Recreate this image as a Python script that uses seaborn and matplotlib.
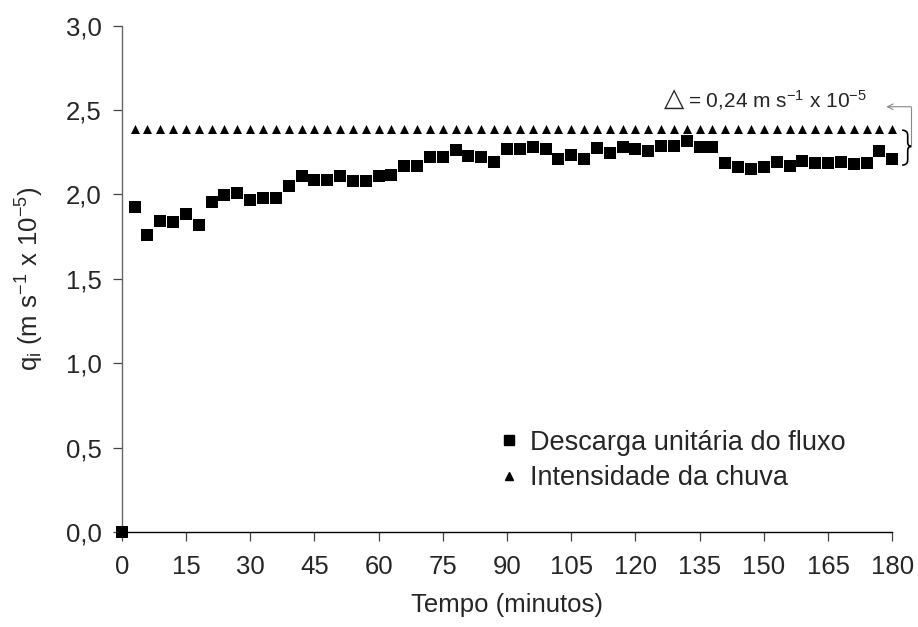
import numpy as np
import pandas as pd
import seaborn as sns
import matplotlib.pyplot as plt
from matplotlib.lines import Line2D
from matplotlib.path import Path
from matplotlib.patches import PathPatch
from matplotlib.ticker import FuncFormatter

# tempo (minutos)
tempo = list(range(0, 181, 3))

# descarga unitaria do fluxo (m s-1 x 10-5)
descarga = [0.0,
            1.925, 1.761, 1.843, 1.837, 1.884, 1.818, 1.957, 1.994, 2.008, 1.965,
            1.982, 1.978, 2.053, 2.108, 2.086, 2.086, 2.108, 2.082, 2.078, 2.108,
            2.118, 2.167, 2.167, 2.220, 2.225, 2.263, 2.227, 2.222, 2.194, 2.271,
            2.271, 2.280, 2.269, 2.212, 2.233, 2.208, 2.276, 2.247, 2.282, 2.269,
            2.257, 2.286, 2.290, 2.314, 2.280, 2.280, 2.186, 2.161, 2.151, 2.165,
            2.192, 2.171, 2.196, 2.186, 2.186, 2.190, 2.182, 2.186, 2.255, 2.212]

# intensidade da chuva (3 a 180 min)
tempo_chuva = tempo[1:]
chuva = [2.386, 2.386, 2.386, 2.386, 2.386, 2.386, 2.386, 2.386, 2.386, 2.386,
         2.386, 2.386, 2.386, 2.386, 2.386, 2.386, 2.386, 2.386, 2.386, 2.386,
         2.386, 2.386, 2.386, 2.386, 2.386, 2.386, 2.386, 2.386, 2.386, 2.386,
         2.386, 2.386, 2.386, 2.386, 2.386, 2.386, 2.386, 2.386, 2.386, 2.386,
         2.386, 2.386, 2.386, 2.386, 2.386, 2.386, 2.386, 2.386, 2.386, 2.386,
         2.386, 2.386, 2.386, 2.386, 2.386, 2.386, 2.386, 2.386, 2.386, 2.386]

x_ticks = list(range(0, 181, 15))
y_ticks = [0.0, 0.5, 1.0, 1.5, 2.0, 2.5, 3.0]

sns.set_style("white")
plt.rcParams["font.family"] = ["Liberation Sans", "DejaVu Sans"]
plt.rcParams["mathtext.default"] = "regular"

fig = plt.figure(figsize=(9.18, 6.27), dpi=100)
ax = fig.add_axes([0.1326, 0.1515, 0.9720 - 0.1326, 0.959 - 0.1515])

df_q = pd.DataFrame({"tempo": tempo, "q": descarga})
df_c = pd.DataFrame({"tempo": tempo_chuva, "q": chuva})

sns.scatterplot(data=df_c, x="tempo", y="q", marker="^", s=42, color="black",
                linewidth=0, clip_on=False, zorder=5, ax=ax)
sns.scatterplot(data=df_q, x="tempo", y="q", marker="s", s=76, color="black",
                linewidth=0, clip_on=False, zorder=5, ax=ax)

ax.set_xlim(0, 180)
ax.set_ylim(0, 3.0)
ax.set_xticks(x_ticks)
ax.set_yticks(y_ticks)
ax.yaxis.set_major_formatter(FuncFormatter(lambda v, p: f"{v:.1f}".replace(".", ",")))
ax.tick_params(axis="both", labelsize=18.5, direction="out", length=6.5, width=0.9,
               color="#444444", bottom=True, left=True)
ax.tick_params(axis="x", pad=10)
ax.tick_params(axis="y", pad=8)

sns.despine(ax=ax)
ax.spines["left"].set_color("#666666")
ax.spines["bottom"].set_color("black")
ax.spines["left"].set_linewidth(1.0)
ax.spines["bottom"].set_linewidth(1.0)

ax.set_xlabel("Tempo (minutos)", fontsize=18.5, labelpad=10)
ax.set_ylabel("q$_i$ (m s$^{-1}$ x 10$^{-5}$)", fontsize=18.5, labelpad=14)

handles = [Line2D([], [], marker="s", color="black", linestyle="none", markersize=6.5),
           Line2D([], [], marker="^", color="black", linestyle="none", markersize=6)]
ax.legend(handles, ["Descarga unitária do fluxo", "Intensidade da chuva"],
          loc="upper left", bbox_to_anchor=(0.461, 0.25), frameon=False,
          fontsize=19.5, handlelength=0.6, handletextpad=0.45, labelspacing=0.35)

# anotacao da diferenca
ax.text(174.1, 2.56, "= 0,24 m s$^{-1}$ x 10$^{-5}$", ha="right", va="center",
        fontsize=15, clip_on=False)
ax.text(129.0, 2.565, "△", family="DejaVu Sans", ha="center", va="center",
        fontsize=19, clip_on=False)
ax.annotate("", xy=(178.6, 2.52), xytext=(184.4, 2.52),
            arrowprops=dict(arrowstyle="->", color="#888888", lw=0.8,
                            shrinkA=0, shrinkB=0), annotation_clip=False)
ax.plot([184.4, 184.4], [2.52, 2.285], color="#888888", lw=0.8, clip_on=False)

brace = Path([(182.3, 2.381), (183.6, 2.381), (183.6, 2.35),
              (183.6, 2.31),
              (183.6, 2.285), (184.5, 2.285),
              (183.6, 2.285), (183.6, 2.26),
              (183.6, 2.205),
              (183.6, 2.174), (182.3, 2.174)],
             [Path.MOVETO, Path.CURVE3, Path.CURVE3,
              Path.LINETO,
              Path.CURVE3, Path.CURVE3,
              Path.CURVE3, Path.CURVE3,
              Path.LINETO,
              Path.CURVE3, Path.CURVE3])
ax.add_patch(PathPatch(brace, facecolor="none", edgecolor="black", lw=1.2,
                       clip_on=False))

plt.savefig("out.png", dpi=100)
